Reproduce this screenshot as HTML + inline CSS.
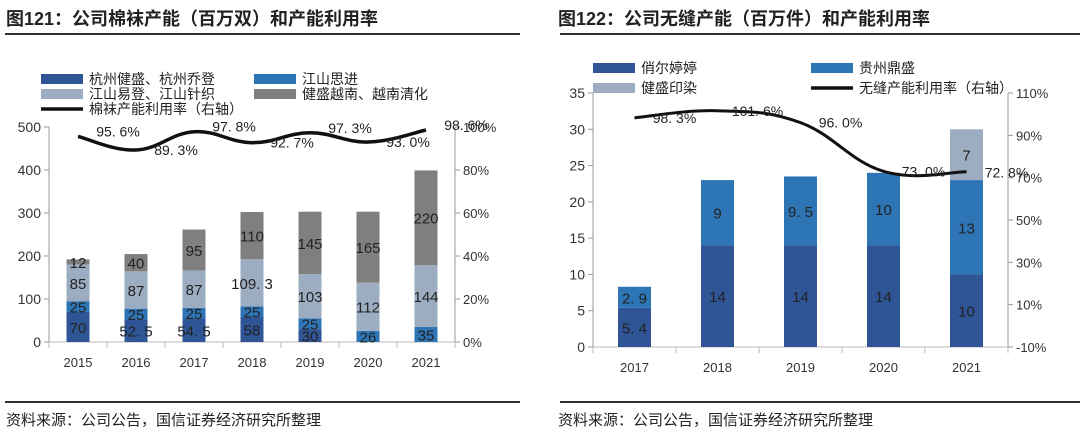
<!DOCTYPE html>
<html><head><meta charset="utf-8"><style>
body{margin:0;background:#fff;width:1080px;height:436px;overflow:hidden;font-family:"Liberation Sans","Noto Sans CJK SC",sans-serif;}
svg text{font-family:"Liberation Sans","Noto Sans CJK SC",sans-serif;}
</style></head><body>
<svg id="s" width="1080" height="436">
<text x="6" y="25" font-size="18" font-weight="bold" fill="#222">图121：公司棉袜产能（百万双）和产能利用率</text>
<text x="558" y="25" font-size="18" font-weight="bold" fill="#222">图122：公司无缝产能（百万件）和产能利用率</text>
<line x1="5" y1="34" x2="520" y2="34" stroke="#333" stroke-width="2"/>
<line x1="560" y1="34" x2="1080" y2="34" stroke="#333" stroke-width="2"/>
<line x1="5" y1="402" x2="520" y2="402" stroke="#333" stroke-width="2"/>
<line x1="560" y1="402" x2="1080" y2="402" stroke="#333" stroke-width="2"/>
<text x="6" y="425" font-size="15" fill="#222">资料来源：公司公告，国信证券经济研究所整理</text>
<text x="558" y="425" font-size="15" fill="#222">资料来源：公司公告，国信证券经济研究所整理</text>
<g id="c1"></g>
<g id="c2"></g>
</svg>
<script>
const years1=["2015","2016","2017","2018","2019","2020","2021"];
const hzjs=[70,52.5,54.5,58,30,0,0];
const jssj=[25,25,25,25,25,26,35];
const jsyd=[85,87,87,109.3,103,112,144];
const jsvn=[12,40,95,110,145,165,220];
const util1=[95.6,89.3,97.8,92.7,97.3,93.0,98.6];
const leftTicks1=[0,100,200,300,400,500];
const rightTicks1=[0,20,40,60,80,100];

const years2=["2017","2018","2019","2020","2021"];
const xets=[5.4,14,14,14,10];
const gzds=[2.9,9,9.5,10,13];
const jsyr=[0,0,0,0,7];
const util2=[98.3,101.6,96.0,73.0,72.8];
const leftTicks2=[0,5,10,15,20,25,30,35];
const rightTicks2=[-10,10,30,50,70,90,110];

const NS="http://www.w3.org/2000/svg";
function mk(p,t,a,txt){const e=document.createElementNS(NS,t);for(const k in a)e.setAttribute(k,a[k]);if(txt!==undefined)e.textContent=txt;p.appendChild(e);return e;}
function fmt(v){return String(v).replace('.','. ');}
function smooth(pts){let d="M"+pts[0][0]+","+pts[0][1];for(let i=0;i<pts.length-1;i++){const p0=pts[i-1]||pts[i],p1=pts[i],p2=pts[i+1],p3=pts[i+2]||p2;const t=0.2;d+=" C"+(p1[0]+(p2[0]-p0[0])*t)+","+(p1[1]+(p2[1]-p0[1])*t)+" "+(p2[0]-(p3[0]-p1[0])*t)+","+(p2[1]-(p3[1]-p1[1])*t)+" "+p2[0]+","+p2[1];}return d;}

function chart(g,o){
  const n=o.cats.length,step=(o.x1-o.x0)/n;
  const xc=i=>o.x0+step*(i+0.5);
  const yL=v=>o.yb-(v-o.lmin)/(o.lmax-o.lmin)*(o.yb-o.yt);
  const yR=v=>o.yb-(v-o.rmin)/(o.rmax-o.rmin)*(o.yb-o.yt);
  let e=mk(g,"line",{x1:o.x0,y1:o.yt,x2:o.x0,y2:o.yb,stroke:"#999"});
  
  e=mk(g,"line",{x1:o.x1,y1:o.yt,x2:o.x1,y2:o.yb,stroke:"#999"});
  
  e=mk(g,"line",{x1:o.x0,y1:o.yb,x2:o.x1,y2:o.yb,stroke:"#bbb"});
  
  o.lt.forEach(v=>{const y=yL(v);mk(g,"line",{x1:o.x0-5,y1:y,x2:o.x0,y2:y,stroke:"#999"});
    e=mk(g,"text",{x:o.x0-8,y:y+5,"font-size":14,fill:"#333","text-anchor":"end"},v);
    });
  o.rt.forEach(v=>{const y=yR(v);mk(g,"line",{x1:o.x1,y1:y,x2:o.x1+5,y2:y,stroke:"#999"});
    e=mk(g,"text",{x:o.x1+8,y:y+5,"font-size":13,fill:"#333"},v+"%");
    });
  for(let i=0;i<=n;i++){const x=o.x0+step*i;mk(g,"line",{x1:x,y1:o.yb,x2:x,y2:o.yb+6,stroke:"#bbb"});}
  o.cats.forEach((c,i)=>{e=mk(g,"text",{x:xc(i),y:o.yb+o.xly,"font-size":13,fill:"#333","text-anchor":"middle"},c);
    });
  o.cats.forEach((c,i)=>{let base=0;
    o.series.forEach((s,k)=>{const v=s.vals[i];if(!v)return;
      const y1=yL(base+v),y0=yL(base);
      e=mk(g,"rect",{x:xc(i)-o.bw/2,y:y1,width:o.bw,height:y0-y1,fill:s.color});
      
      e=mk(g,"text",{x:xc(i),y:(y0+y1)/2+6,"font-size":15,fill:"#222","text-anchor":"middle"},fmt(v));
      
      base+=v;});});
  const pts=o.util.map((v,i)=>[xc(i),yR(v)]);
  e=mk(g,"path",{d:smooth(pts),fill:"none",stroke:"#111","stroke-width":o.lw});
  
  o.util.forEach((v,i)=>{e=mk(g,"text",{x:pts[i][0]+o.lox,y:pts[i][1]+o.loy(i),"font-size":14,fill:"#222","text-anchor":"middle"},fmt(v.toFixed(1))+"%");
    });
}
const C1={dark:"#2F5597",mid:"#2E75B6",light:"#9DADC1",gray:"#7F7F7F"};
chart(document.getElementById('c1'),{cats:years1,x0:49,x1:455,yt:127,yb:342,lmin:0,lmax:500,rmin:0,rmax:100,lt:leftTicks1,rt:rightTicks1,bw:23,xly:25,lw:3.5,
  series:[{key:'hzjs',vals:hzjs,color:C1.dark},{key:'jssj',vals:jssj,color:C1.mid},{key:'jsyd',vals:jsyd,color:C1.light},{key:'jsvn',vals:jsvn,color:C1.gray}],
  util:util1,lox:40,loy:i=>(i%2==0?0:5)});
chart(document.getElementById('c2'),{cats:years2,x0:593,x1:1008,yt:93,yb:347,lmin:0,lmax:35,rmin:-10,rmax:110,lt:leftTicks2,rt:rightTicks2,bw:33,xly:25,lw:3,
  series:[{key:'xets',vals:xets,color:C1.dark},{key:'gzds',vals:gzds,color:C1.mid},{key:'jsyr',vals:jsyr,color:C1.light}],
  util:util2,lox:40,loy:i=>(i==4?6:5)});
const s=document.getElementById('s');
function leg(x,y,color,label,line){let e;
  if(line) e=mk(s,"line",{x1:x,y1:y,x2:x+42,y2:y,stroke:"#111","stroke-width":3.5});
  else e=mk(s,"rect",{x:x,y:y-5,width:42,height:10,fill:color});
  
  e=mk(s,"text",{x:x+48,y:y+5,"font-size":14,fill:"#222"},label);
  }
leg(41,79,C1.dark,"杭州健盛、杭州乔登");
leg(254,79,C1.mid,"江山思进");
leg(41,94,C1.light,"江山易登、江山针织");
leg(254,94,C1.gray,"健盛越南、越南清化");
leg(41,109,null,"棉袜产能利用率（右轴）",true);
leg(593,68,C1.dark,"俏尔婷婷");
leg(811,68,C1.mid,"贵州鼎盛");
leg(593,88,C1.light,"健盛印染");
leg(811,88,null,"无缝产能利用率（右轴）",true);
</script>
</body></html>
